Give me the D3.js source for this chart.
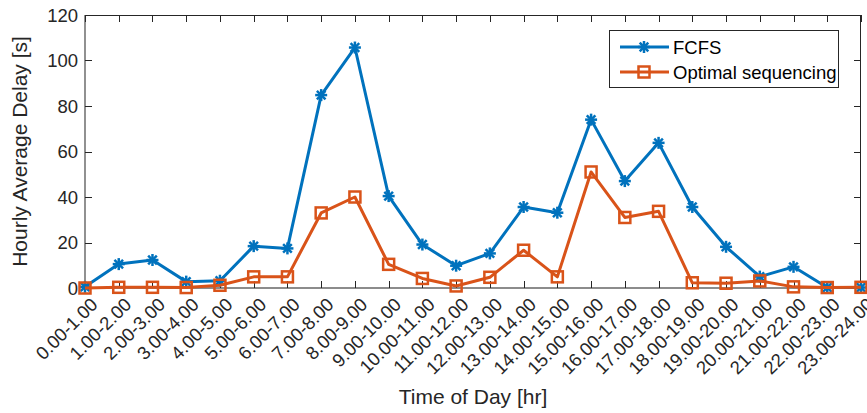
<!DOCTYPE html>
<html><head><meta charset="utf-8">
<script src="https://cdn.jsdelivr.net/npm/d3@7"></script>
<style>body{margin:0;background:#fff}svg{display:block;font-family:"Liberation Sans",Arial,sans-serif}</style>
</head><body><svg id="c" width="867" height="413"></svg>
<script>
const categories = ["0.00-1.00","1.00-2.00","2.00-3.00","3.00-4.00","4.00-5.00","5.00-6.00","6.00-7.00","7.00-8.00","8.00-9.00","9.00-10.00","10.00-11.00","11.00-12.00","12.00-13.00","13.00-14.00","14.00-15.00","15.00-16.00","16.00-17.00","17.00-18.00","18.00-19.00","19.00-20.00","20.00-21.00","21.00-22.00","22.00-23.00","23.00-24.00"];
const fcfs = [0.5,10.5,12.3,2.8,3.2,18.4,17.4,84.8,105.7,40.4,19.1,9.8,15.2,35.6,33.1,74,47,63.8,35.6,18.1,5,9.3,0.2,0.2];
const optimal = [0,0.3,0.3,0.2,1.2,4.9,4.9,33,40,10.4,4.2,0.9,4.7,16.6,4.9,51,31,33.7,2.3,2.1,3.1,0.5,0.2,0.3];
const yTicks = [0,20,40,60,80,100,120];
const seriesNames = ["FCFS","Optimal sequencing"];
const colors = ["#0072BD","#D95319"];

const svg = d3.select("#c");
const L=85, R=861, T=15, B=288;
const x = d3.scalePoint().domain(categories).range([L,R]);
const y = d3.scaleLinear().domain([0,120]).range([B,T]);

// Box
svg.append("line").attr("x1",L).attr("x2",R).attr("y1",T+0.5).attr("y2",T+0.5).attr("stroke","#262626");
svg.append("line").attr("x1",R-0.5).attr("x2",R-0.5).attr("y1",T).attr("y2",B).attr("stroke","#262626");
svg.append("line").attr("x1",L).attr("x2",L).attr("y1",T).attr("y2",B).attr("stroke","#555").attr("stroke-width",1.3);
svg.append("line").attr("x1",L).attr("x2",R).attr("y1",B).attr("y2",B).attr("stroke","#666").attr("stroke-width",1.3);

// Ticks
const tl = 7;
categories.forEach(c=>{
  const xx = Math.round(x(c))+0.5;
  svg.append("line").attr("x1",xx).attr("x2",xx).attr("y1",B).attr("y2",B-tl).attr("stroke","#262626");
  svg.append("line").attr("x1",xx).attr("x2",xx).attr("y1",T).attr("y2",T+tl).attr("stroke","#262626");
});
yTicks.forEach(v=>{
  const yy = Math.round(y(v))+0.5;
  svg.append("line").attr("x1",L).attr("x2",L+tl).attr("y1",yy).attr("y2",yy).attr("stroke","#262626");
  svg.append("line").attr("x1",R).attr("x2",R-tl).attr("y1",yy).attr("y2",yy).attr("stroke","#262626");
  svg.append("text").attr("x",L-7).attr("y",y(v)).attr("dy","0.36em").attr("text-anchor","end")
    .attr("font-size",18.5).attr("fill","#262626").text(v);
});
categories.forEach(c=>{
  svg.append("text").attr("transform",`translate(${x(c)+9},${B+13}) rotate(-45)`)
    .attr("text-anchor","end").attr("dy","0.36em").attr("font-size",18.5).attr("fill","#262626").text(c);
});

// Axis labels
svg.append("text").attr("x",(L+R)/2).attr("y",404).attr("text-anchor","middle").attr("font-size",21).attr("fill","#262626").text("Time of Day [hr]");
svg.append("text").attr("transform",`translate(27,${(T+B)/2}) rotate(-90)`).attr("text-anchor","middle").attr("font-size",21).attr("fill","#262626").text("Hourly Average Delay [s]");

// Markers
function star(g, cx, cy, col){
  const s=6;
  [[-s,0,s,0],[0,-s,0,s],[-s*0.72,-s*0.72,s*0.72,s*0.72],[-s*0.72,s*0.72,s*0.72,-s*0.72]].forEach(a=>{
    g.append("line").attr("x1",cx+a[0]).attr("y1",cy+a[1]).attr("x2",cx+a[2]).attr("y2",cy+a[3]).attr("stroke",col).attr("stroke-width",2.5);
  });
}
function square(g, cx, cy, col){
  g.append("rect").attr("x",cx-5.5).attr("y",cy-5.5).attr("width",11).attr("height",11).attr("fill","none").attr("stroke",col).attr("stroke-width",2.5);
}
const line = d3.line().x((d,i)=>x(categories[i])).y(d=>y(d));
[fcfs, optimal].forEach((data,k)=>{
  const g = svg.append("g");
  g.append("path").datum(data).attr("d",line).attr("fill","none").attr("stroke",colors[k]).attr("stroke-width",3).attr("stroke-linejoin","round");
  data.forEach((d,i)=>{ if(k===0) star(g,x(categories[i]),y(d),colors[k]); else square(g,x(categories[i]),y(d),colors[k]); });
});

// Legend
const lg = svg.append("g");
lg.append("rect").attr("x",609.5).attr("y",30.5).attr("width",229).attr("height",57).attr("fill","#fff").attr("stroke","#262626");
seriesNames.forEach((n,k)=>{
  const yy = [47,72][k];
  lg.append("line").attr("x1",620).attr("x2",669).attr("y1",yy).attr("y2",yy).attr("stroke",colors[k]).attr("stroke-width",3);
  if(k===0) star(lg,644,yy,colors[k]); else square(lg,644,yy,colors[k]);
  lg.append("text").attr("x",673).attr("y",yy).attr("dy","0.36em").attr("font-size",18.5).attr("fill","#000").text(n);
});
</script></body></html>
